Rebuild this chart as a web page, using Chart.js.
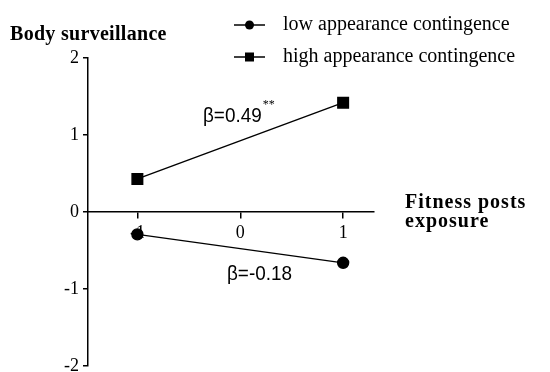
<!DOCTYPE html>
<html>
<head>
<meta charset="utf-8">
<script src="https://cdn.jsdelivr.net/npm/chart.js@4"></script>
<style>
  html, body { margin: 0; padding: 0; background: #fff; }
  #wrap { width: 550px; height: 372px; position: relative; }
</style>
</head>
<body>
<div id="wrap"><canvas id="c" width="550" height="372"></canvas></div>
<script>
// data
const exposure = [-1, 1];
const lowValues = [-0.29, -0.66];
const highValues = [0.43, 1.42];
const seriesNames = ['low appearance contingence', 'high appearance contingence'];
const xTicks = [-1, 0, 1];
const yTicks = [-2, -1, 0, 1, 2];
const betaLow = 'β=-0.18';
const betaHigh = 'β=0.49';

const serif = '"Liberation Serif", "Times New Roman", serif';
const sans = '"Liberation Sans", Arial, sans-serif';

function pts(vals) {
  return exposure.map((x, i) => ({ x: x, y: vals[i] }));
}

// narrow-looking sans text, like the beta labels in the figure
function narrowText(ctx, txt, x, y) {
  ctx.save();
  ctx.translate(x, y);
  ctx.scale(0.9, 1);
  ctx.fillText(txt, 0, 0);
  const w = ctx.measureText(txt).width * 0.9;
  ctx.restore();
  return w;
}

// let the y axis run down to the bottom edge (the "-2" is cut in the figure)
const stretchY = {
  id: 'stretchY',
  afterLayout(chart) {
    const y = chart.scales.y;
    const area = chart.chartArea;
    if (!y || !area) return;
    const bottom = chart.height - 6;
    area.bottom = bottom;
    area.height = bottom - area.top;
    y.bottom = bottom;
    y.height = bottom - y.top;
    y.configure();
  }
};

// titles, legend and beta labels
const extras = {
  id: 'extras',
  afterDraw(chart) {
    const ctx = chart.ctx;
    ctx.save();
    ctx.fillStyle = '#000';
    ctx.strokeStyle = '#000';
    ctx.textBaseline = 'middle';
    ctx.textAlign = 'left';

    ctx.font = 'bold 20px ' + serif;
    ctx.letterSpacing = '0.3px';
    ctx.fillText('Body surveillance', 10, 35);
    ctx.letterSpacing = '1px';
    ctx.fillText('Fitness posts', 405, 203);
    ctx.fillText('exposure', 405, 222);
    ctx.letterSpacing = '0px';

    // legend
    ctx.font = '20px ' + serif;
    const rows = [25, 57];
    rows.forEach((y, i) => {
      ctx.lineWidth = 1.5;
      ctx.beginPath();
      ctx.moveTo(234, y);
      ctx.lineTo(265, y);
      ctx.stroke();
      if (i === 0) {
        ctx.beginPath();
        ctx.arc(249.5, y, 4.5, 0, Math.PI * 2);
        ctx.fill();
      } else {
        ctx.fillRect(245, y - 4.5, 9, 9);
      }
      ctx.fillText(seriesNames[i], 283, y);
    });

    // beta labels
    ctx.font = '21px ' + sans;
    const w = narrowText(ctx, betaHigh, 203, 116);
    ctx.font = '12px ' + serif;
    ctx.fillText('**', 203 + w + 1, 105);
    ctx.font = '21px ' + sans;
    narrowText(ctx, betaLow, 227, 274);
    ctx.restore();
  }
};

new Chart(document.getElementById('c'), {
  type: 'scatter',
  data: {
    datasets: [
      {
        label: seriesNames[0],
        data: pts(lowValues),
        showLine: true,
        borderColor: '#000',
        backgroundColor: '#000',
        borderWidth: 1.4,
        pointStyle: 'circle',
        pointRadius: 5.5
      },
      {
        label: seriesNames[1],
        data: pts(highValues),
        showLine: true,
        borderColor: '#000',
        backgroundColor: '#000',
        borderWidth: 1.4,
        pointStyle: 'rect',
        pointRadius: 7.5
      }
    ]
  },
  options: {
    responsive: false,
    animation: false,
    layout: { padding: { left: 0, right: 176, top: 58, bottom: 6 } },
    plugins: { legend: { display: false }, tooltip: { enabled: false } },
    scales: {
      x: {
        type: 'linear',
        position: { y: 0 },
        min: -1.48,
        max: 1.3,
        afterBuildTicks: s => { s.ticks = xTicks.map(v => ({ value: v })); },
        grid: { display: true, drawOnChartArea: false, drawTicks: true, tickLength: 6, color: '#000', lineWidth: 1.5 },
        border: { display: true, color: '#000', width: 1.5 },
        ticks: { color: '#000', font: { family: serif, size: 18 }, padding: 4 }
      },
      y: {
        type: 'linear',
        min: -2,
        max: 2,
        afterBuildTicks: s => { s.ticks = yTicks.map(v => ({ value: v })); },
        afterFit: s => { s.width = 88; },
        grid: { display: true, drawOnChartArea: false, drawTicks: true, tickLength: 5, color: '#000', lineWidth: 1.5 },
        border: { display: true, color: '#000', width: 1.5 },
        ticks: { color: '#000', font: { family: serif, size: 18 }, padding: 4 }
      }
    }
  },
  plugins: [stretchY, extras]
});
</script>
</body>
</html>
